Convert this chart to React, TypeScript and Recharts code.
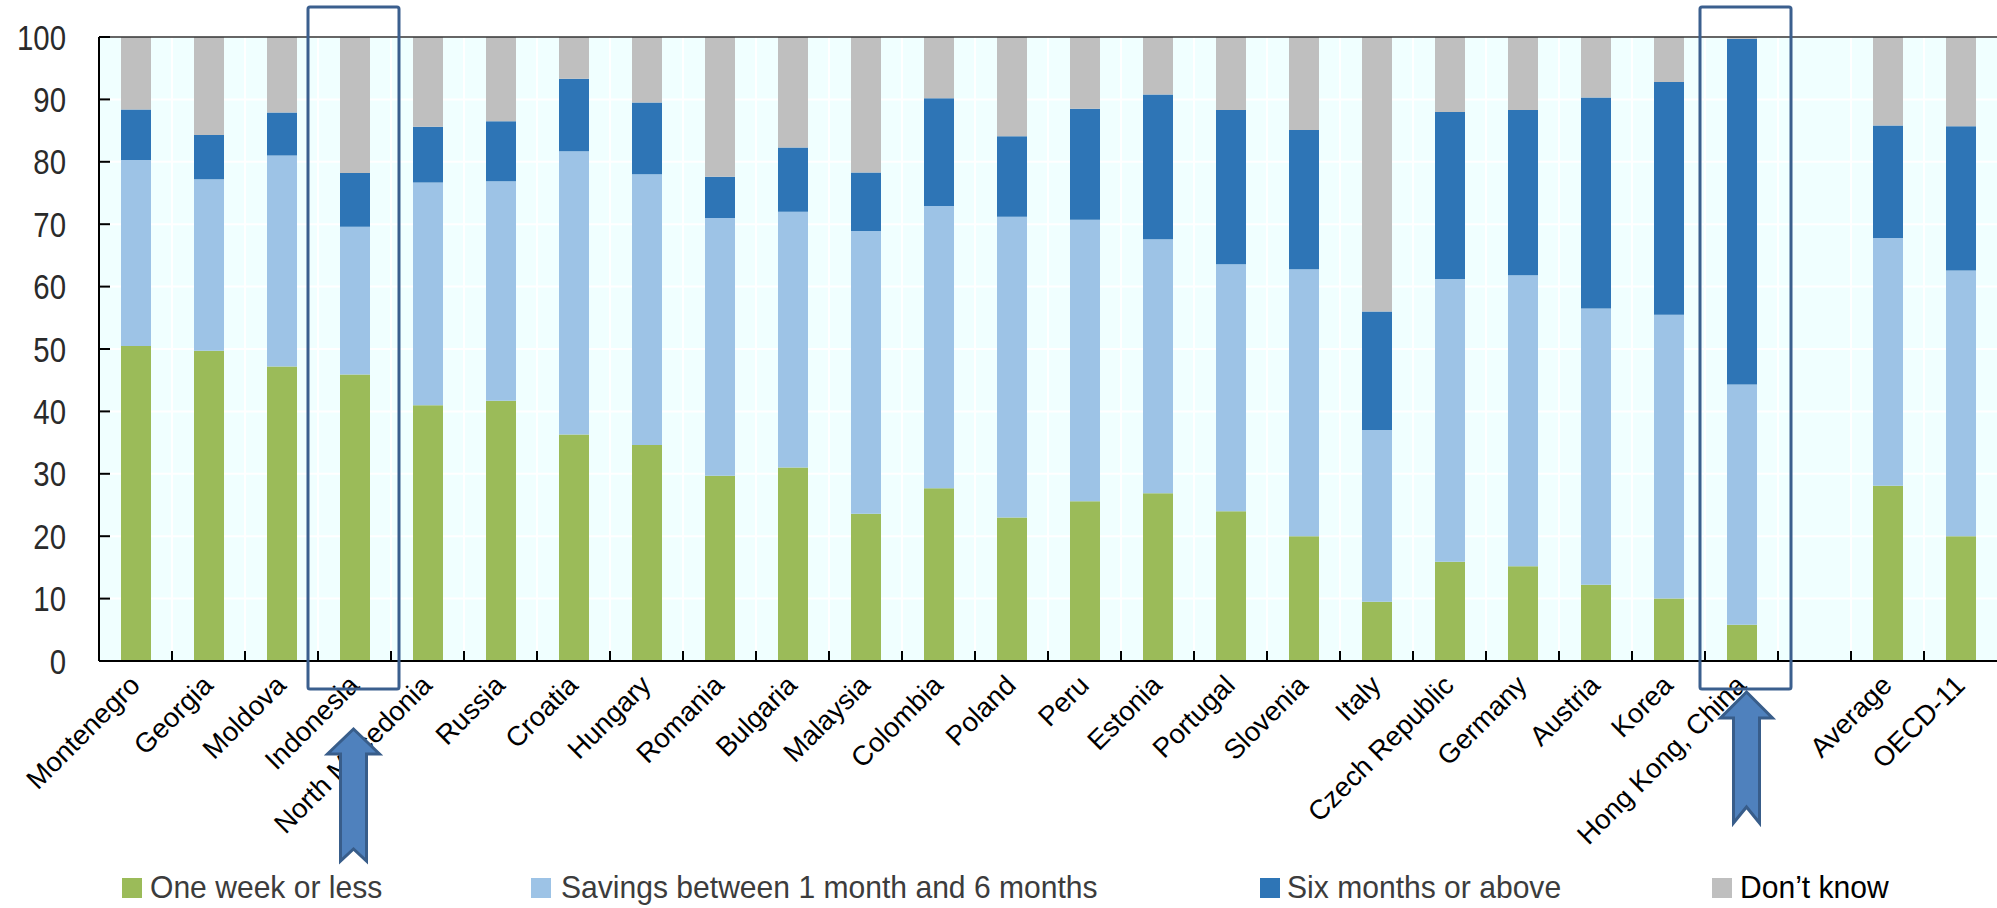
import React from 'react';
import { BarChart, Bar, XAxis, YAxis, CartesianGrid, ReferenceLine } from 'recharts';

// categories (the empty one is the gap before the averages)
const countries = [
  'Montenegro', 'Georgia', 'Moldova', 'Indonesia', 'North Macedonia', 'Russia', 'Croatia',
  'Hungary', 'Romania', 'Bulgaria', 'Malaysia', 'Colombia', 'Poland', 'Peru', 'Estonia',
  'Portugal', 'Slovenia', 'Italy', 'Czech Republic', 'Germany', 'Austria', 'Korea',
  'Hong Kong, China', '', 'Average', 'OECD-11',
];

// share of respondents (%)
const oneWeekOrLess = [50.5, 49.7, 47.2, 45.9, 41.0, 41.7, 36.3, 34.6, 29.7, 31.0, 23.6, 27.7, 23.0, 25.6, 26.9, 24.0, 20.0, 9.5, 15.9, 15.2, 12.2, 10.0, 5.8, null, 28.1, 20.0];
const oneToSixMonths = [29.8, 27.5, 33.8, 23.7, 35.7, 35.2, 45.4, 43.4, 41.3, 41.0, 45.3, 45.2, 48.2, 45.1, 40.7, 39.6, 42.8, 27.5, 45.3, 46.6, 44.3, 45.5, 38.5, null, 39.7, 42.6];
const sixMonthsPlus = [8.1, 7.1, 6.9, 8.6, 8.9, 9.6, 11.6, 11.5, 6.6, 10.3, 9.4, 17.3, 12.9, 17.8, 23.2, 24.7, 22.3, 19.0, 26.8, 26.5, 33.8, 37.3, 55.4, null, 18.0, 23.1];
const dontKnow = [11.6, 15.7, 12.1, 21.8, 14.4, 13.5, 6.7, 10.5, 22.4, 17.7, 21.7, 9.8, 15.9, 11.5, 9.2, 11.7, 14.9, 44.0, 12.0, 11.7, 9.7, 7.2, 0.3, null, 14.2, 14.3];

const yTicks = [0, 10, 20, 30, 40, 50, 60, 70, 80, 90, 100];
const highlighted = ['Indonesia', 'Hong Kong, China'];

const series = [
  { key: 'week', label: 'One week or less', color: '#9bbb59' },
  { key: 'months', label: 'Savings between 1 month and 6 months', color: '#9dc3e6' },
  { key: 'six', label: 'Six months or above', color: '#2e75b6' },
  { key: 'dk', label: 'Don\u2019t know', color: '#bfbfbf' },
];

const data = countries.map((name, i) => ({
  name,
  week: oneWeekOrLess[i],
  months: oneToSixMonths[i],
  six: sixMonthsPlus[i],
  dk: dontKnow[i],
}));

const W = 1997;
const H = 908;
const plotLeft = 99;
const plotTop = 37;
const plotBottom = 661;
const slotW = (W - plotLeft) / countries.length;
const center = (name: string) => plotLeft + slotW * (countries.indexOf(name) + 0.5);

const arial = "'Liberation Sans', Arial, sans-serif";

const YTick = (props: any) => {
  const { x, y, payload } = props;
  return (
    <g>
      <line x1={x} x2={x + 11} y1={y} y2={y} stroke="#000" strokeWidth={2} />
      <text
        transform={`translate(${x - 33}, ${y + 12.5}) scale(0.84, 1)`}
        textAnchor="end"
        fontSize={35}
        fontFamily={arial}
        fill="#2a2a2a"
      >
        {payload.value}
      </text>
    </g>
  );
};

const XTick = (props: any) => {
  const { x, payload } = props;
  const left = x - slotW / 2;
  const tx = x + 6;
  const ty = plotBottom + 26;
  return (
    <g>
      <line x1={left} x2={left} y1={plotBottom} y2={plotBottom - 10} stroke="#000" strokeWidth={2} />
      <text x={tx} y={ty} transform={`rotate(-45, ${tx}, ${ty})`} textAnchor="end" fontSize={27.5} fontFamily={arial} fill="#000">
        {payload.value}
      </text>
    </g>
  );
};

const Arrow = ({ cx, tip, base, bottom, notch }: any) => {
  const pts = [
    [cx, tip], [cx + 26, base], [cx + 13, base], [cx + 13, bottom],
    [cx, notch], [cx - 13, bottom], [cx - 13, base], [cx - 26, base],
  ].map(p => p.join(',')).join(' ');
  return <polygon points={pts} fill="#4f81bd" stroke="#385d8a" strokeWidth={3} />;
};

const legendPos = [
  { box: 122, text: 150 },
  { box: 531, text: 561 },
  { box: 1260, text: 1287 },
  { box: 1712, text: 1740 },
];

export default function App() {
  const boundaries = countries.map((_, i) => plotLeft + slotW * i);
  return (
    <div style={{ position: 'absolute', left: 0, top: 0, width: W, height: H, background: '#fff' }}>
      <BarChart width={W} height={H} data={data} margin={{ top: plotTop, right: 0, bottom: 0, left: 0 }} barSize={30}>
        <CartesianGrid
          fill="#f0ffff"
          stroke="#ffffff"
          strokeWidth={2}
          verticalCoordinatesGenerator={() => boundaries}
        />
        <XAxis
          dataKey="name"
          interval={0}
          height={H - plotBottom}
          tickSize={0}
          tickMargin={0}
          tickLine={false}
          axisLine={{ stroke: '#000', strokeWidth: 2 }}
          tick={<XTick />}
        />
        <YAxis
          domain={[0, 100]}
          ticks={yTicks}
          width={plotLeft}
          tickSize={0}
          tickMargin={0}
          tickLine={false}
          axisLine={{ stroke: '#000', strokeWidth: 2 }}
          tick={<YTick />}
        />
        {series.map(s => (
          <Bar key={s.key} dataKey={s.key} stackId="a" fill={s.color} isAnimationActive={false} />
        ))}
        <ReferenceLine y={100} stroke="#333" strokeWidth={1.5} />
      </BarChart>
      <svg width={W} height={H} style={{ position: 'absolute', left: 0, top: 0, pointerEvents: 'none' }}>
        {highlighted.map((name, i) => {
          const cx = center(name) + (i === 0 ? -1 : 4);
          return (
            <rect key={name} x={cx - 45.5} y={7} width={91} height={682} fill="none" stroke="#3b5f8e" strokeWidth={3} rx={2} />
          );
        })}
        <Arrow cx={center('Indonesia') - 1} tip={729} base={754} bottom={861} notch={849} />
        <Arrow cx={center('Hong Kong, China') + 5} tip={692} base={718} bottom={823} notch={807} />
        {series.map((s, i) => (
          <g key={s.key}>
            <rect x={legendPos[i].box} y={878} width={20} height={20} fill={s.color} />
            <text
              transform={`translate(${legendPos[i].text}, 898) scale(0.94, 1)`}
              fontSize={32}
              fontFamily={arial}
              fill={s.key === 'dk' ? '#000' : '#3c3c3c'}
            >
              {s.label}
            </text>
          </g>
        ))}
      </svg>
    </div>
  );
}
